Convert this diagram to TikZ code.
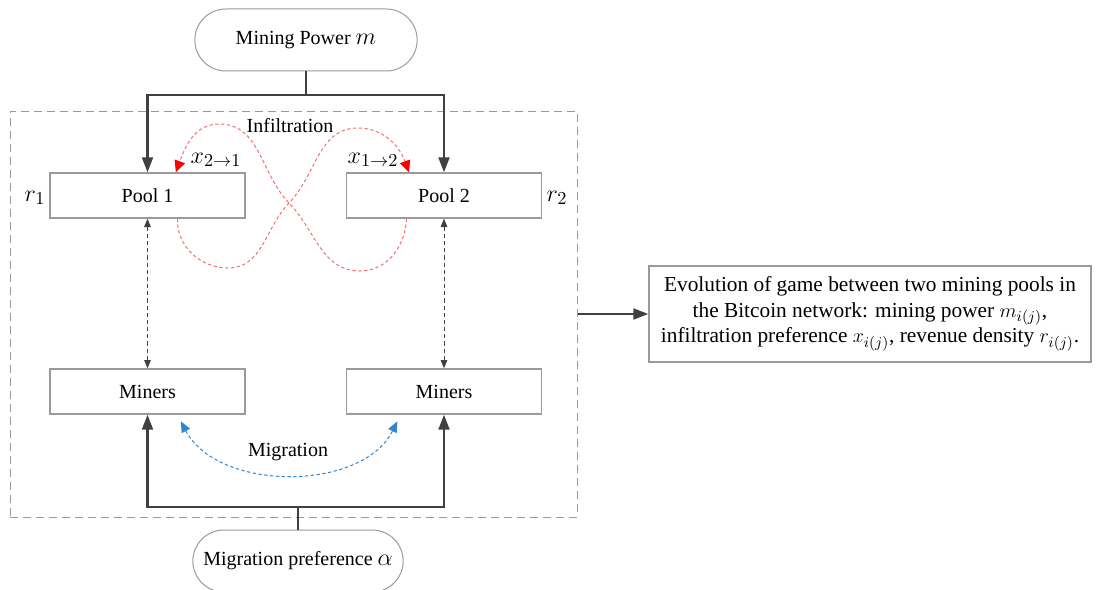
\documentclass[tikz,border=0pt]{standalone}
\usepackage{fontspec}
\setmainfont{Liberation Serif}
\usetikzlibrary{arrows.meta,shapes.misc}

\definecolor{linegray}{HTML}{404040}
\definecolor{boxgray}{HTML}{9A9A9A}
\definecolor{infred}{HTML}{F04040}
\definecolor{migblue}{HTML}{2E86D0}

\tikzset{
  stadium/.style={rounded rectangle, draw=boxgray, line width=0.6pt,
    minimum height=37.2pt, inner sep=2pt},
  plainbox/.style={rectangle, draw=boxgray, line width=0.8pt,
    minimum width=117pt, minimum height=27pt, inner sep=2pt},
  framebox/.style={rectangle, draw=boxgray, line width=0.6pt,
    dash pattern=on 4.8pt off 3pt, minimum width=340.2pt, minimum height=243.6pt},
  mainflow/.style={draw=linegray, line width=1.5pt},
  mainarrow/.style={mainflow, -{Triangle[length=9pt,width=6.5pt]}},
  linkarrow/.style={draw=linegray, line width=0.5pt, dash pattern=on 2.5pt off 1.8pt,
    {Triangle[length=5pt,width=4pt]}-{Triangle[length=5pt,width=4pt]}},
  infarrow/.style={draw=infred!75, line width=0.6pt, dash pattern=on 2pt off 1.5pt,
    -{Triangle[length=7pt,width=6.5pt,fill=red,color=red]}},
  migarrow/.style={draw=migblue, line width=0.6pt, dash pattern=on 2pt off 1.5pt,
    {Triangle[length=6.5pt,width=5.5pt]}-{Triangle[length=6.5pt,width=5.5pt]}},
  varlabel/.style={inner sep=0pt, font=\fontsize{15}{17}\selectfont},
}

\begin{document}
\begin{tikzpicture}[x=0.6pt,y=-0.6pt,font=\fontsize{12}{14}\selectfont]
\useasboundingbox (0,0) rectangle (1101,590);

% dashed frame around the two pools and their miners
\node[framebox] (frame) at (293.5,314) {};

% inputs
\node[stadium, minimum width=137.4pt] (mp) at (306,40)
  {Mining Power {\fontsize{15}{17}\selectfont$m$}};
\node[stadium, minimum width=130.2pt] (pref) at (298,561)
  {Migration preference {\fontsize{15}{17}\selectfont$\alpha$}};

% pools and miners
\node[plainbox] (pool1) at (147.5,195.5) {Pool 1};
\node[plainbox] (pool2) at (444,195.5) {Pool 2};
\node[plainbox] (miners1) at (147.5,391.5) {Miners};
\node[plainbox] (miners2) at (444,391.5) {Miners};

% revenue densities
\node[varlabel] (r1) at (35,198) {$r_1$};
\node[varlabel] (r2) at (557,198) {$r_2$};

% summary box
\node[rectangle, draw=boxgray, line width=0.8pt, minimum width=265.2pt,
  minimum height=57.6pt, align=center, inner sep=2pt,
  font=\fontsize{12.8}{15.3}\selectfont] (evo) at (870,314)
  {Evolution of game between two mining pools in\\
   the Bitcoin network: mining power $m_{i(j)}$,\\
   infiltration preference $x_{i(j)}$, revenue density $r_{i(j)}$.};

% mining power feeds both pools
\coordinate (mpj) at (306,95);
\draw[mainflow] (mp.south) -- (mpj);
\draw[mainarrow] (mpj) -| (pool1.north);
\draw[mainarrow] (mpj) -| (pool2.north);

% migration preference feeds both groups of miners
\coordinate (prj) at (298,507);
\draw[mainflow] (pref.north) -- (prj);
\draw[mainarrow] (prj) -| (miners1.south);
\draw[mainarrow] (prj) -| (miners2.south);

% pools <-> miners
\draw[linkarrow] (pool1.south) -- (miners1.north);
\draw[linkarrow] (pool2.south) -- (miners2.north);

% frame -> summary
\draw[mainarrow] (frame.east) -- (evo.west);

% infiltration loops
\coordinate (p2out) at ([xshift=-22.5pt]pool2.south);
\coordinate (p1in) at ([xshift=17pt]pool1.north);
\coordinate (p1out) at ([xshift=18pt]pool1.south);
\coordinate (p2in) at ([xshift=-21pt]pool2.north);
\draw[infarrow] (p2out) to[out=-92,in=0] (360,271) to[out=180,in=-46] (289,203)
  to[out=134,in=0] (219,124) to[out=180,in=70] (p1in);
\draw[infarrow] (p1out) to[out=-92,in=180] (228,268) to[out=0,in=-134] (289,203)
  to[out=46,in=180] (358,128) to[out=0,in=110] (p2in);
\node (inf) at (290,126) {Infiltration};
\node[varlabel] (x21) at (216,160) {$x_{2\to1}$};
\node[varlabel] (x12) at (373,160) {$x_{1\to2}$};

% migration between miners
\coordinate (m1in) at ([xshift=20pt,yshift=-4pt]miners1.south);
\coordinate (m2in) at ([xshift=-28pt,yshift=-4pt]miners2.south);
\draw[migarrow] (m1in) .. controls (218,492) and (362,492) .. (m2in);
\node (mig) at (288,452) {Migration};
\end{tikzpicture}
\end{document}
